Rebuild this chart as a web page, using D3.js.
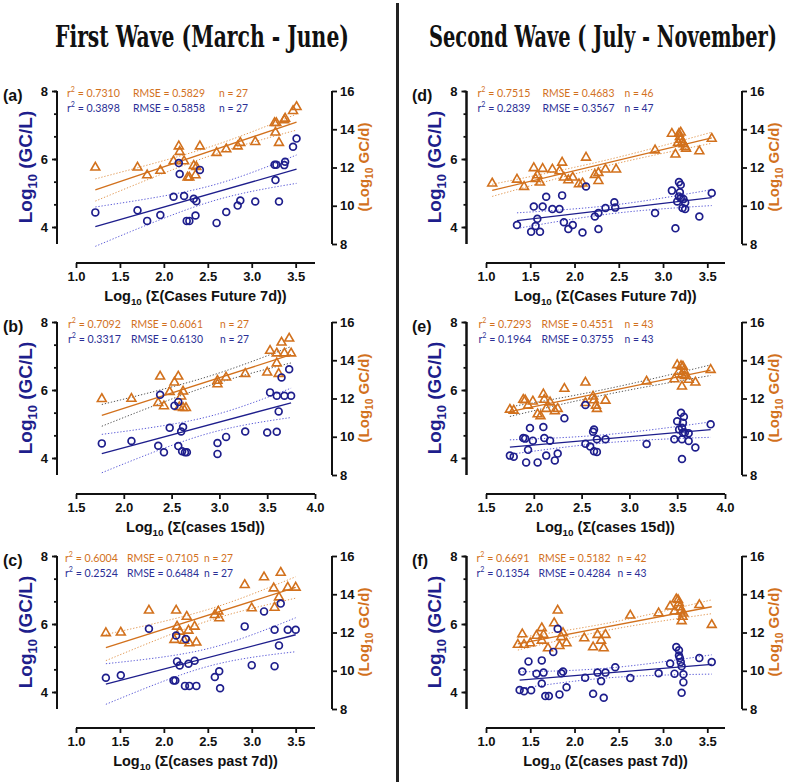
<!DOCTYPE html>
<html><head><meta charset="utf-8">
<script src="https://cdn.jsdelivr.net/npm/d3@7/dist/d3.min.js"></script>
<style>body{margin:0;background:#fff} svg{display:block}</style>
</head><body><svg id="chart" width="790" height="782"></svg>
<script>
// ---------------- DATA ----------------
const titles = ["First Wave (March - June)", "Second Wave ( July - November)"];
const panelLetters = ["(a)", "(b)", "(c)", "(d)", "(e)", "(f)"];
const xLabelTexts = ["(Cases Future 7d))", "(cases 15d))", "(cases past 7d))",
                     "(Cases Future 7d))", "(cases 15d))", "(cases past 7d))"];
const xTickValuesA = [1.0, 1.5, 2.0, 2.5, 3.0, 3.5];
const xTickValuesB = [1.5, 2.0, 2.5, 3.0, 3.5, 4.0];
const leftTickLabels = [4, 6, 8];
const rightTickLabels = [8, 10, 12, 14, 16];

// stats: [r2, RMSE, n]
const statsOrange = [["0.7310","0.5829","27"],["0.7092","0.6061","27"],["0.6004","0.7105","27"],
                     ["0.7515","0.4683","46"],["0.7293","0.4551","43"],["0.6691","0.5182","42"]];
const statsBlue   = [["0.3898","0.5858","27"],["0.3317","0.6130","27"],["0.2524","0.6484","27"],
                     ["0.2839","0.3567","47"],["0.1964","0.3755","43"],["0.1354","0.4284","43"]];

// Panel (a): x = Log10(Σ cases future 7d); blue = Log10 GC/L ; orange = Log10 GC/d
const aBlue = [[1.22,4.43],[1.70,4.49],[1.81,4.18],[1.96,4.35],[2.11,4.89],[2.17,5.88],[2.18,5.56],[2.23,4.91],[2.26,4.18],[2.29,4.18],[2.34,4.83],[2.37,4.76],[2.36,4.34],[2.41,5.68],[2.60,4.12],[2.71,4.44],[2.84,4.63],[2.87,4.78],[3.04,4.75],[3.26,5.83],[3.28,5.83],[3.27,5.38],[3.31,4.75],[3.37,5.82],[3.38,5.92],[3.47,6.36],[3.51,6.60]];
const aOrange = [[1.22,12.0],[1.70,12.0],[1.81,11.6],[1.96,11.83],[2.11,12.33],[2.17,13.11],[2.18,12.82],[2.23,12.33],[2.27,11.48],[2.29,11.48],[2.34,12.09],[2.37,12.03],[2.36,11.6],[2.41,13.11],[2.60,12.77],[2.71,12.96],[2.84,13.11],[2.87,13.29],[3.04,13.34],[3.26,14.33],[3.28,14.33],[3.27,13.83],[3.31,13.29],[3.37,14.47],[3.38,14.56],[3.47,14.96],[3.51,15.17]];
// Panel (b)
const bBlue = [[1.77,4.43],[2.08,4.50],[2.36,4.36],[2.38,5.86],[2.42,4.17],[2.48,4.89],[2.53,5.54],[2.57,5.65],[2.57,4.35],[2.60,4.78],[2.62,4.91],[2.61,4.20],[2.64,4.17],[2.66,4.17],[2.98,4.44],[2.98,4.12],[3.07,4.62],[3.27,4.78],[3.50,4.75],[3.53,5.93],[3.60,4.77],[3.60,5.83],[3.62,5.37],[3.65,6.37],[3.68,5.83],[3.73,6.61],[3.75,5.83]];
const bOrange = [[1.77,11.98],[2.08,11.99],[2.36,11.77],[2.38,13.15],[2.42,11.60],[2.48,12.34],[2.53,12.84],[2.57,13.15],[2.58,11.55],[2.60,12.11],[2.62,12.37],[2.62,11.51],[2.65,11.51],[2.98,12.93],[2.98,12.75],[3.07,13.10],[3.27,13.29],[3.50,13.36],[3.53,14.50],[3.60,14.36],[3.60,13.84],[3.62,13.29],[3.65,14.93],[3.68,14.36],[3.73,15.14],[3.75,14.36]];
// Panel (c)
const cBlue = [[1.34,4.42],[1.51,4.49],[1.83,5.86],[2.11,4.34],[2.13,4.34],[2.14,5.66],[2.15,4.90],[2.18,4.78],[2.25,5.56],[2.24,4.18],[2.28,4.83],[2.29,4.18],[2.35,4.92],[2.37,4.18],[2.58,4.44],[2.63,4.61],[2.64,4.11],[2.92,5.93],[3.00,4.79],[3.14,6.37],[3.26,4.76],[3.26,5.83],[3.31,5.37],[3.33,6.60],[3.41,5.83],[3.50,5.83]];
const cOrange = [[1.34,11.97],[1.51,12.0],[1.83,13.15],[2.12,11.62],[2.14,13.15],[2.15,12.31],[2.18,12.05],[2.23,11.58],[2.26,12.83],[2.28,12.10],[2.29,11.44],[2.35,12.31],[2.37,11.48],[2.58,12.92],[2.62,13.10],[2.63,12.75],[2.92,14.49],[3.00,13.27],[3.14,14.89],[3.25,14.31],[3.26,13.30],[3.31,13.84],[3.33,15.13],[3.41,14.35],[3.50,14.35]];
// Panel (d)
const dBlue = [[1.35,4.06],[1.51,3.86],[1.54,4.60],[1.56,4.03],[1.58,4.24],[1.61,3.86],[1.64,4.60],[1.68,4.89],[1.75,4.53],[1.83,4.53],[1.86,4.93],[1.88,4.14],[1.93,3.94],[1.98,4.06],[2.09,3.84],[2.13,5.19],[2.23,4.31],[2.27,4.41],[2.27,3.94],[2.35,4.56],[2.45,4.73],[2.46,4.57],[2.91,4.41],[3.10,5.07],[3.14,3.96],[3.16,4.75],[3.18,5.32],[3.20,5.24],[3.19,5.02],[3.18,4.90],[3.20,4.85],[3.22,4.56],[3.23,4.82],[3.25,4.53],[3.25,4.72],[3.41,4.31],[3.55,5.00]];
const dOrange = [[1.07,11.17],[1.35,11.37],[1.43,10.99],[1.54,11.97],[1.56,11.41],[1.58,11.60],[1.61,11.22],[1.64,11.93],[1.75,11.90],[1.83,11.81],[1.86,12.26],[1.88,11.48],[1.93,11.34],[1.98,11.48],[2.05,11.13],[2.09,11.17],[2.13,12.52],[2.23,11.62],[2.27,11.72],[2.27,11.30],[2.35,11.90],[2.47,11.90],[2.91,12.90],[3.10,13.77],[3.14,12.68],[3.17,13.30],[3.18,13.77],[3.20,13.83],[3.19,13.60],[3.20,13.46],[3.22,13.34],[3.23,13.22],[3.25,13.08],[3.26,12.99],[3.41,12.85],[3.55,13.51]];
// Panel (e)
const eBlue = [[1.75,4.07],[1.79,4.04],[1.89,4.59],[1.91,4.57],[1.92,3.87],[1.94,4.24],[1.96,4.88],[1.99,4.51],[2.04,3.87],[2.10,4.91],[2.11,4.59],[2.13,4.07],[2.17,4.51],[2.22,3.93],[2.25,4.13],[2.32,5.17],[2.54,5.56],[2.54,4.42],[2.59,4.34],[2.62,4.77],[2.63,4.84],[2.63,4.20],[2.66,4.18],[2.66,4.55],[2.75,4.55],[3.18,4.41],[3.47,4.55],[3.50,5.08],[3.52,4.84],[3.54,5.33],[3.55,4.89],[3.55,4.55],[3.56,5.04],[3.57,5.21],[3.56,4.75],[3.58,4.75],[3.62,4.73],[3.62,4.50],[3.55,3.97],[3.69,4.31],[3.85,4.99]];
const eOrange = [[1.75,11.42],[1.79,11.37],[1.89,11.94],[1.91,11.91],[1.94,11.63],[1.99,11.85],[2.04,11.18],[2.07,11.08],[2.10,12.22],[2.11,11.94],[2.13,11.46],[2.17,11.80],[2.22,11.34],[2.25,11.46],[2.32,12.51],[2.54,12.84],[2.54,11.77],[2.62,12.11],[2.63,11.91],[2.65,11.63],[2.66,11.46],[2.75,11.89],[3.18,12.89],[3.47,13.01],[3.50,13.75],[3.52,13.41],[3.54,13.70],[3.55,13.24],[3.56,13.67],[3.57,13.46],[3.58,13.18],[3.62,12.98],[3.55,12.63],[3.69,12.84],[3.85,13.50]];
// Panel (f)
const fBlue = [[1.38,4.06],[1.43,4.02],[1.41,4.60],[1.48,4.90],[1.51,4.05],[1.57,4.54],[1.63,4.93],[1.63,4.25],[1.65,4.57],[1.67,3.88],[1.71,3.88],[1.76,5.18],[1.81,5.86],[1.83,3.93],[1.85,4.55],[1.87,4.60],[1.91,4.14],[2.12,4.42],[2.21,3.95],[2.26,4.57],[2.30,4.32],[2.35,4.57],[2.33,3.83],[2.46,4.73],[2.63,4.41],[2.95,4.55],[3.08,4.84],[3.13,4.54],[3.15,5.32],[3.18,5.23],[3.18,5.07],[3.19,5.00],[3.20,4.88],[3.21,4.76],[3.23,4.52],[3.23,4.29],[3.21,3.98],[3.41,5.00],[3.55,4.88]];
const fOrange = [[1.36,11.36],[1.41,11.91],[1.43,11.36],[1.50,11.44],[1.57,11.83],[1.63,12.23],[1.63,11.58],[1.65,11.88],[1.70,11.18],[1.77,12.49],[1.81,13.15],[1.83,11.30],[1.85,11.76],[1.87,11.97],[1.91,11.44],[2.11,11.70],[2.21,11.23],[2.26,11.88],[2.30,11.58],[2.33,11.18],[2.35,11.88],[2.63,12.89],[2.95,13.01],[3.08,13.36],[3.13,13.10],[3.15,13.74],[3.17,13.70],[3.18,13.53],[3.19,13.32],[3.20,13.10],[3.22,12.83],[3.21,12.60],[3.23,13.00],[3.41,13.44],[3.55,12.40]];

const blueSets = [aBlue, bBlue, cBlue, dBlue, eBlue, fBlue];
const orangeSets = [aOrange, bOrange, cOrange, dOrange, eOrange, fOrange];

// ---------------- STYLE / LAYOUT ----------------
const NAVY = "#1e1e8c", NAVY_TXT = "#2b2f96", ORANGE = "#d2711d";
const BLUE_BAND = "#5c5cd8", ORANGE_BAND = "#e39a55", GRAY_BAND = "#555";
const colLeftAxis = [57, 466.5], colRightAxis = [332, 742], colXRange = [[76, 315], [486, 725]];
const rowTop = [91, 322, 556], plotH = 153, xAxisOff = 172;
const xDomains = [[1, 3.72], [1.5, 4.0], [1, 3.72], [1, 3.7], [1.5, 4.0], [1, 3.7]];
const orangeBandColors = [ORANGE_BAND, GRAY_BAND, ORANGE_BAND, ORANGE_BAND, GRAY_BAND, ORANGE_BAND];
const statsX = [[10, 76, 162], [11, 74, 163], [8, 70, 147], [11, 76, 158], [12, 75, 158], [10, 72, 151]];
const statsW = [53, 72, 29];
const SANS = "'Liberation Sans', Arial, sans-serif";
const STAT_FONT = "Lato, 'Open Sans', sans-serif";
const STAT_FS = 12;

const svg = d3.select("#chart");
svg.append("rect").attr("width", 790).attr("height", 782).attr("fill", "#fff");

// place a text in a group, scaled horizontally to a target width
function fitText(parent, x, y, width, build) {
  const tg = parent.append("g");
  const tx = tg.append("text").attr("x", 0).attr("y", 0);
  build(tx);
  const w = tx.node().getComputedTextLength();
  tg.attr("transform", `translate(${x},${y}) scale(${width / w},1)`);
  return tx;
}

// titles
const titleCenters = [202, 603], titleWidths = [294, 348];
titles.forEach((t, i) => {
  fitText(svg, titleCenters[i] - titleWidths[i] / 2, 47, titleWidths[i], tx =>
    tx.style("font-family", "'DejaVu Serif Condensed', 'DejaVu Serif', serif")
      .style("font-stretch", "condensed").style("font-weight", "bold")
      .style("font-size", "29px").attr("fill", "#111").text(t));
});
// divider
svg.append("line").attr("x1", 397.5).attr("x2", 397.5).attr("y1", 3).attr("y2", 782)
  .attr("stroke", "#222").attr("stroke-width", 3);

function fit(pts) {
  const n = pts.length, mx = d3.mean(pts, d => d[0]), my = d3.mean(pts, d => d[1]);
  let sxx = 0, sxy = 0;
  pts.forEach(([x, y]) => { sxx += (x - mx) ** 2; sxy += (x - mx) * (y - my); });
  const b = sxy / sxx, a = my - b * mx;
  let sse = 0; pts.forEach(([x, y]) => { sse += (y - a - b * x) ** 2; });
  const df = n - 2, s = Math.sqrt(sse / df), t = 1.96 + 2.4 / df + 2.8 / (df * df);
  return { a, b, mx, sxx, s, t, n, x0: d3.min(pts, d => d[0]), x1: d3.max(pts, d => d[0]) };
}

function drawFit(g, pts, xs, ys, lineColor, bandColor) {
  const f = fit(pts);
  const xsSample = d3.range(0, 41).map(i => f.x0 + (f.x1 - f.x0) * i / 40);
  const yhat = x => f.a + f.b * x;
  const half = x => f.t * f.s * Math.sqrt(1 / f.n + (x - f.mx) ** 2 / f.sxx);
  const line = d3.line().x(d => xs(d[0])).y(d => ys(d[1]));
  [1, -1].forEach(sg => {
    g.append("path").attr("d", line(xsSample.map(x => [x, yhat(x) + sg * half(x)])))
      .attr("fill", "none").attr("stroke", bandColor).attr("stroke-width", 1)
      .attr("stroke-dasharray", "1.3,1.8");
  });
  g.append("path").attr("d", line([[f.x0, yhat(f.x0)], [f.x1, yhat(f.x1)]]))
    .attr("fill", "none").attr("stroke", lineColor).attr("stroke-width", 1.3);
}

function logLabel(sel, rest, fs) {
  sel.append("tspan").text("Log");
  sel.append("tspan").attr("dy", fs * 0.28).style("font-size", (fs * 0.68) + "px").text("10");
  sel.append("tspan").attr("dy", -fs * 0.28).text(rest);
}

for (let p = 0; p < 6; p++) {
  const col = Math.floor(p / 3), row = p % 3;
  const top = rowTop[row], bottom = top + plotH;
  const lx = colLeftAxis[col], rx = colRightAxis[col];
  const xAxisY = top + xAxisOff;
  const g = svg.append("g");

  const xs = d3.scaleLinear().domain(xDomains[p]).range(colXRange[col]);
  const yL = d3.scaleLinear().domain([3.5, 8]).range([bottom, top]);
  const yR = d3.scaleLinear().domain([8, 16]).range([bottom, top]);

  // left axis with minor ticks
  const minorVals = d3.range(0, 7).map(i => 8 - i * 2 / 3).filter(v => v >= 3.5);
  const la = g.append("g").attr("transform", `translate(${lx},0)`)
    .call(d3.axisLeft(yL).tickValues(minorVals).tickSize(3).tickFormat(""));
  const la2 = g.append("g").attr("transform", `translate(${lx},0)`)
    .call(d3.axisLeft(yL).tickValues(leftTickLabels).tickSize(5).tickPadding(4).tickFormat(d3.format("d")));
  // right axis
  const ra = g.append("g").attr("transform", `translate(${rx},0)`)
    .call(d3.axisRight(yR).tickValues(rightTickLabels).tickSize(5).tickPadding(3).tickFormat(d3.format("d")));
  // x axis
  const xTicks = (xDomains[p][0] === 1.5 ? xTickValuesB : xTickValuesA);
  const xa = g.append("g").attr("transform", `translate(0,${xAxisY})`)
    .call(d3.axisBottom(xs).tickValues(xTicks).tickSize(5).tickPadding(4).tickFormat(d3.format(".1f")));
  [la, la2, ra, xa].forEach(a => {
    a.selectAll("path.domain").attr("stroke", "#111").attr("stroke-width", 2);
    a.selectAll("line").attr("stroke", "#111").attr("stroke-width", 1.8);
    a.selectAll("text").style("font-family", SANS).style("font-weight", "bold")
      .style("font-size", "13px").attr("fill", "#111");
  });
  [la, la2, ra].forEach(a => a.select("path.domain").attr("d", `M0,${bottom}V${top}`));
  xa.select("path.domain").attr("d", `M${colXRange[col][0]},0H${colXRange[col][1]}`);

  // fits
  drawFit(g, orangeSets[p], xs, yR, ORANGE, orangeBandColors[p]);
  drawFit(g, blueSets[p], xs, yL, NAVY, BLUE_BAND);

  // markers
  g.append("g").selectAll("path").data(orangeSets[p]).join("path")
    .attr("d", d3.symbol(d3.symbolTriangle, 34)())
    .attr("transform", d => `translate(${xs(d[0])},${yR(d[1])})`)
    .attr("fill", "none").attr("stroke", ORANGE).attr("stroke-width", 1.6);
  g.append("g").selectAll("circle").data(blueSets[p]).join("circle")
    .attr("cx", d => xs(d[0])).attr("cy", d => yL(d[1])).attr("r", 3.4)
    .attr("fill", "none").attr("stroke", NAVY).attr("stroke-width", 1.7);

  // stats text
  [[statsOrange[p], ORANGE, top + 6], [statsBlue[p], NAVY_TXT, top + 21]].forEach(([st, color, yy]) => {
    const sx = statsX[p].map(o => lx + o);
    const base = tx => tx.attr("fill", color).style("font-family", STAT_FONT).style("font-size", STAT_FS + "px");
    fitText(g, sx[0], yy, statsW[0], tx => {
      base(tx);
      tx.append("tspan").text("r");
      tx.append("tspan").attr("dy", -4.8).style("font-size", "8px").text("2");
      tx.append("tspan").attr("dy", 4.8).text(" = " + st[0]);
    });
    fitText(g, sx[1], yy, statsW[1], tx => base(tx).text("RMSE = " + st[1]));
    fitText(g, sx[2], yy, statsW[2], tx => base(tx).text("n = " + st[2]));
  });

  // panel letter
  g.append("text").attr("x", col === 0 ? 3 : 412).attr("y", top + 10)
    .style("font-family", SANS).style("font-weight", "bold").style("font-size", "16px")
    .attr("fill", "#111").text(panelLetters[p]);

  // y labels
  const cy = top + 76;
  const yl = g.append("text").attr("transform", `translate(${lx - 32},${cy}) rotate(-90)`)
    .attr("text-anchor", "middle").attr("dy", "0.35em").attr("fill", NAVY)
    .style("font-family", SANS).style("font-weight", "bold").style("font-size", "19px");
  logLabel(yl, " (GC/L)", 19);
  const yr = g.append("text").attr("transform", `translate(${rx + 32},${cy}) rotate(-90)`)
    .attr("text-anchor", "middle").attr("dy", "0.35em").attr("fill", ORANGE)
    .style("font-family", SANS).style("font-weight", "bold").style("font-size", "15px");
  yr.append("tspan").text("(");
  logLabel(yr, " GC/d)", 15);

  // x label
  const xl = g.append("text").attr("x", (colXRange[col][0] + colXRange[col][1]) / 2).attr("y", xAxisY + 38)
    .attr("text-anchor", "middle").attr("fill", "#111")
    .style("font-family", SANS).style("font-weight", "bold").style("font-size", "14.5px");
  logLabel(xl, " (\u03A3" + xLabelTexts[p], 14.5);
}
</script></body></html>
